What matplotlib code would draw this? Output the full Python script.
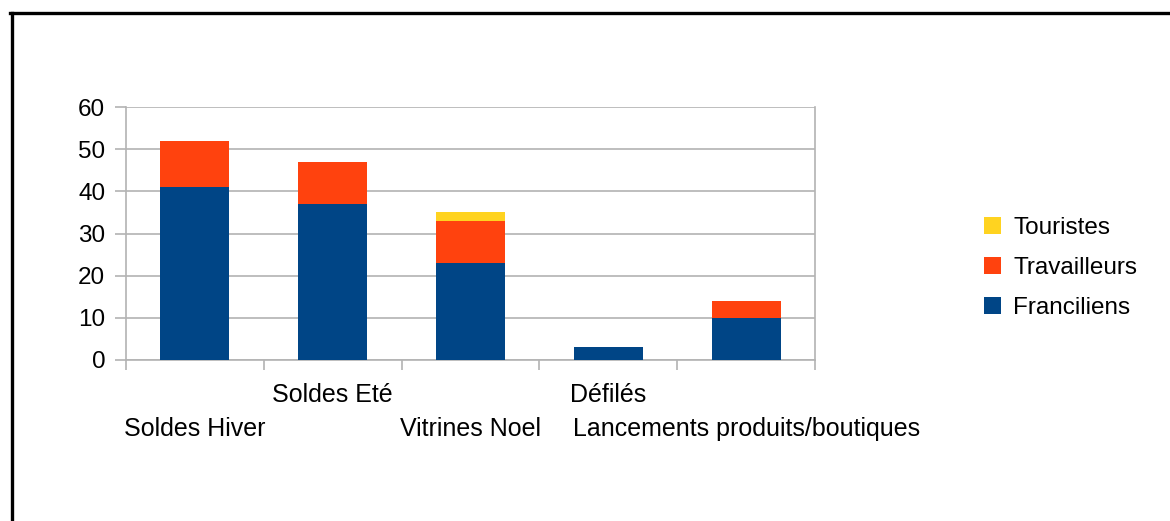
import matplotlib.pyplot as plt
import numpy as np

# Data
categories = ['Soldes Hiver', 'Soldes Eté', 'Vitrines Noel', 'Défilés',
              'Lancements produits/boutiques']
franciliens = [41, 37, 23, 3, 10]
travailleurs = [11, 10, 10, 0, 4]
touristes = [0, 0, 2, 0, 0]

plt.rcParams['font.family'] = ['Liberation Sans', 'DejaVu Sans']

fig = plt.figure(figsize=(11.7, 5.21), dpi=100)
ax = fig.add_axes([126 / 1170, 161 / 521, 689 / 1170, 253 / 521])

x = np.arange(len(categories))
b1 = ax.bar(x, franciliens, width=0.5, color='#004586', label='Franciliens', zorder=3)
b2 = ax.bar(x, travailleurs, width=0.5, bottom=franciliens, color='#ff420e',
            label='Travailleurs', zorder=3)
base = np.array(franciliens) + np.array(travailleurs)
b3 = ax.bar(x, touristes, width=0.5, bottom=base, color='#ffd320',
            label='Touristes', zorder=3)

grid_col = '#b3b3b3'
ax.set_xlim(-0.5, len(categories) - 0.5)
ax.set_ylim(0, 60)
ax.set_yticks(range(0, 61, 10))
ax.yaxis.grid(True, color=grid_col, linewidth=1.2, zorder=0)
ax.tick_params(axis='y', length=8, color=grid_col, width=1.2, labelsize=17.5, pad=7)

# category boundaries get tick marks, labels placed at centers in two staggered rows
ax.set_xticks(np.arange(-0.5, len(categories)), labels=[])
ax.tick_params(axis='x', which='major', length=7.5, color=grid_col, width=1.2)
trans = ax.get_xaxis_transform()
for i, c in enumerate(categories):
    yrow = -35 / 253 if i % 2 else -69 / 253
    ax.text(x[i], yrow, c, transform=trans, ha='center', va='center', fontsize=18)

for s in ['left', 'bottom', 'right', 'top']:
    ax.spines[s].set_color(grid_col)
    ax.spines[s].set_linewidth(1.2)
ax.spines['top'].set_visible(False)

ax.legend(handles=[b3, b2, b1], loc='center left', bbox_to_anchor=(984 / 1170, 253 / 521),
          bbox_transform=fig.transFigure, frameon=False, fontsize=17.5,
          handlelength=0.7, handleheight=0.7, handletextpad=0.5, labelspacing=0.72,
          borderpad=0, borderaxespad=0)

# frame lines (left and top only)
fig.add_artist(plt.Line2D([11.5 / 1170, 11.5 / 1170], [0, 1 - 12.5 / 521],
                          transform=fig.transFigure, color='black', linewidth=2.4))
fig.add_artist(plt.Line2D([10 / 1170, 1], [1 - 12.5 / 521, 1 - 12.5 / 521],
                          transform=fig.transFigure, color='black', linewidth=2.4))

fig.savefig('out.png', dpi=100)
